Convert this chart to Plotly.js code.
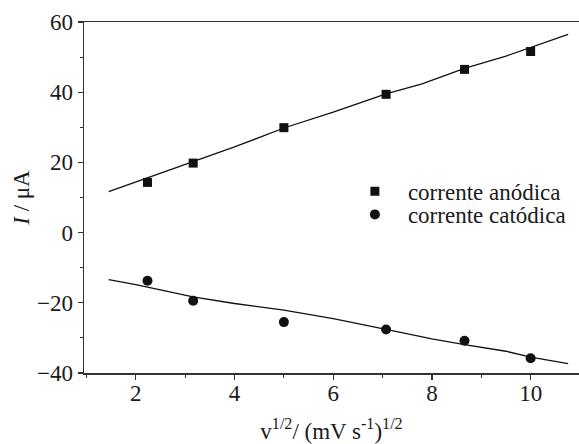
<!DOCTYPE html>
<html>
<head>
<meta charset="utf-8">
<script src="https://cdn.plot.ly/plotly-3.0.1.min.js"></script>
<style>html,body{margin:0;padding:0;background:#fff}#chart{width:579px;height:444px}</style>
</head>
<body>
<div id="chart"></div>
<script>
// Data points (x = v^1/2, y = I / µA)
var sqrtV = [2.236, 3.162, 5.0, 7.071, 8.660, 10.0];
var anodic = [14.3, 19.8, 29.9, 39.4, 46.5, 51.6];
var cathodic = [-13.7, -19.4, -25.5, -27.6, -30.8, -35.8];
// Fit lines as drawn in the figure
var fitAX = [1.45, 2.23, 3.16, 4.0, 5.0, 6.0, 7.07, 7.8, 8.66, 9.5, 10.0, 10.76];
var fitAY = [11.7, 15.5, 20.2, 24.4, 29.8, 34.3, 39.5, 42.4, 46.8, 50.3, 52.8, 56.5];
var fitCX = [1.45, 2.0, 3.16, 4.0, 5.0, 6.0, 7.07, 8.0, 8.66, 9.5, 10.0, 10.76];
var fitCY = [-13.4, -14.8, -18.3, -20.2, -22.1, -24.5, -27.6, -30.3, -31.9, -33.8, -35.5, -37.3];
var names = ['corrente anódica', 'corrente catódica'];

var font = '"Liberation Serif", serif';
var txtColor = '#1a1a1a';
var traces = [
  {x: fitAX, y: fitAY, mode: 'lines', line: {color: '#111', width: 1.3}, showlegend: false, hoverinfo: 'skip'},
  {x: fitCX, y: fitCY, mode: 'lines', line: {color: '#111', width: 1.3}, showlegend: false, hoverinfo: 'skip'},
  {x: sqrtV, y: anodic, mode: 'markers', name: names[0], legend: 'legend',
   marker: {symbol: 'square', size: 9, color: '#111'}},
  {x: sqrtV, y: cathodic, mode: 'markers', name: names[1], legend: 'legend2',
   marker: {symbol: 'circle', size: 10, color: '#111'}}
];
var axisCommon = {
  showgrid: false, zeroline: false, showline: true, linecolor: '#333', linewidth: 1.5,
  ticks: 'outside', ticklen: 5, tickwidth: 1.2, tickcolor: '#333',
  tickfont: {family: font, size: 23, color: txtColor}
};
var legendCommon = {
  xanchor: 'left', yanchor: 'top', bgcolor: 'rgba(0,0,0,0)',
  font: {family: font, size: 23, color: txtColor}, itemwidth: 56
};
var layout = {
  width: 579, height: 444,
  margin: {l: 84, r: 0, t: 22, b: 71},
  paper_bgcolor: '#fff', plot_bgcolor: '#fff',
  font: {family: font, color: txtColor},
  xaxis: Object.assign({}, axisCommon, {
    range: [0.95, 10.98], dtick: 2, tick0: 0, mirror: true,
    minor: {ticks: 'outside', ticklen: 3, dtick: 1, tick0: 0, tickcolor: '#333'},
    title: {text: 'v<sup>1/2</sup>/ (mV s<sup>-1</sup>)<sup>1/2</sup>', font: {family: font, size: 23, color: txtColor}, standoff: 14}
  }),
  yaxis: Object.assign({}, axisCommon, {
    range: [-40, 60], dtick: 20, tick0: 0,
    minor: {ticks: 'outside', ticklen: 3, dtick: 10, tick0: 0, tickcolor: '#333'},
    title: {text: '<i>I</i> / μA', font: {family: font, size: 23, color: txtColor}, standoff: 1}
  }),
  legend: Object.assign({}, legendCommon, {x: 0.521, y: 0.579}),
  legend2: Object.assign({}, legendCommon, {x: 0.521, y: 0.513}),
  showlegend: true
};
Plotly.newPlot('chart', traces, layout, {staticPlot: true}).then(function (gd) {
  // pull the x tick labels a little closer to the axis, as in the reference
  gd.querySelectorAll('.xaxislayer-above .xtick text').forEach(function (t) {
    var tr = t.getAttribute('transform') || '';
    t.setAttribute('transform', tr + ' translate(0,-6)');
  });
});
</script>
</body>
</html>
